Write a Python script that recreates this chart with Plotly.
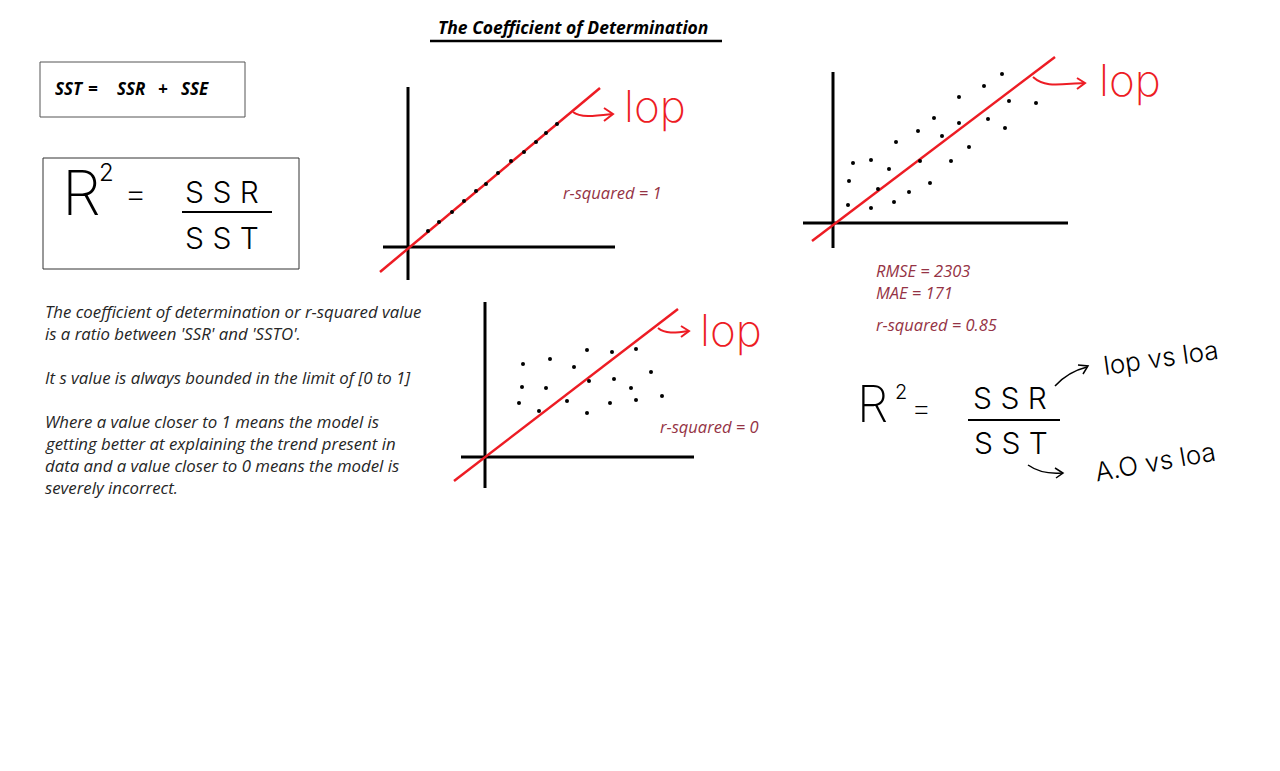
import plotly.graph_objects as go

# ---------------- data ----------------
# panel 1: perfect fit (r-squared = 1)
p1_x = [2.0, 3.1, 4.4, 5.6, 6.8, 7.8, 9.0, 10.3, 11.6, 12.8, 13.8, 14.9]
p1_y = [1.6, 2.5, 3.5, 4.6, 5.6, 6.3, 7.4, 8.6, 9.5, 10.5, 11.4, 12.3]
p1_fit_x = [-2.8, 19.2]
p1_fit_y = [-2.5, 15.9]
p1_xaxis = [-2.5, 20.7]
p1_yaxis = [-3.3, 16.0]

# panel 2: good fit (r-squared = 0.85)
p2_x = [16.9, 15.1, 12.6, 17.6, 20.3, 10.1, 12.6, 15.5, 8.5, 17.2, 10.9, 6.3, 13.6,
        2.0, 3.8, 5.6, 8.7, 11.8, 1.6, 4.5, 7.6, 9.7, 1.5, 3.8, 6.1]
p2_y = [14.9, 13.7, 12.6, 12.2, 12.0, 10.5, 10.0, 10.4, 9.2, 9.5, 8.7, 8.1, 7.6,
        6.0, 6.3, 5.4, 6.2, 6.2, 4.2, 3.4, 3.1, 4.0, 1.8, 1.5, 2.1]
p2_fit_x = [-2.1, 22.2]
p2_fit_y = [-1.8, 16.6]
p2_xaxis = [-3.0, 23.5]
p2_yaxis = [-2.5, 15.1]

# panel 3: no fit (r-squared = 0)
p3_x = [3.8, 6.5, 10.2, 12.7, 15.1, 8.9, 16.6, 3.7, 6.1, 10.4, 12.9, 14.6,
        3.4, 5.4, 8.2, 10.2, 12.5, 15.1, 17.7]
p3_y = [9.3, 9.8, 10.7, 10.5, 10.8, 9.0, 8.5, 7.0, 6.9, 7.6, 7.8, 6.9,
        5.4, 4.6, 5.6, 4.4, 5.4, 5.7, 6.1]
p3_fit_x = [-3.1, 19.3]
p3_fit_y = [-2.4, 14.8]
p3_xaxis = [-2.4, 20.9]
p3_yaxis = [-3.1, 15.5]

title_text = "The Coefficient of Determination"
identity_tokens = ["SST", "=", "SSR", "+", "SSE"]
r2_labels = ["r-squared = 1", "r-squared = 0", "r-squared = 0.85"]
metric_labels = ["RMSE = 2303", "MAE = 171"]
paragraph = [
    "The coefficient of determination or r-squared value",
    "is a ratio between 'SSR' and 'SSTO'.",
    "",
    "It s value is always bounded in the limit of [0 to 1]",
    "",
    "Where a value closer to 1 means the model is",
    "getting better at explaining the trend present in",
    "data and a value closer to 0 means the model is",
    "severely incorrect.",
]

# ---------------- styles ----------------
W, H = 1280, 771
RED = "#ED1C24"
DARKRED = "#953345"
TXT = "#262626"
HAND = "Inter"
BODY = "Open Sans"

fig = go.Figure()

# base (page) axes: one unit = one pixel
fig.update_layout(
    xaxis=dict(domain=[0, 1], range=[0, W], visible=False, fixedrange=True),
    yaxis=dict(domain=[0, 1], range=[H, 0], visible=False, fixedrange=True),
)
fig.add_trace(go.Scatter(x=[0, W], y=[0, H], mode="markers", marker=dict(opacity=0),
                         hoverinfo="skip", showlegend=False))

# panels: (pixel box left, right, top, bottom), origin pixel, data
panels = [
    ((370, 620, 80, 285), (408, 247), p1_x, p1_y, p1_fit_x, p1_fit_y, p1_xaxis, p1_yaxis),
    ((795, 1075, 50, 255), (833, 223), p2_x, p2_y, p2_fit_x, p2_fit_y, p2_xaxis, p2_yaxis),
    ((448, 700, 295, 495), (485, 457), p3_x, p3_y, p3_fit_x, p3_fit_y, p3_xaxis, p3_yaxis),
]
SCALE = 10.0
for i, (box, org, px, py, fx, fy, ax, ay) in enumerate(panels):
    n = i + 2
    L, R, T, B = box
    ox, oy = org
    fig.update_layout({
        f"xaxis{n}": dict(domain=[L / W, R / W], range=[(L - ox) / SCALE, (R - ox) / SCALE],
                          visible=False, fixedrange=True, anchor=f"y{n}"),
        f"yaxis{n}": dict(domain=[1 - B / H, 1 - T / H], range=[(oy - B) / SCALE, (oy - T) / SCALE],
                          visible=False, fixedrange=True, anchor=f"x{n}"),
    })
    xa, ya = f"x{n}", f"y{n}"
    fig.add_trace(go.Scatter(x=[0, 0], y=ay, mode="lines", line=dict(color="black", width=3),
                             xaxis=xa, yaxis=ya, showlegend=False, hoverinfo="skip"))
    fig.add_trace(go.Scatter(x=ax, y=[0, 0], mode="lines", line=dict(color="black", width=3),
                             xaxis=xa, yaxis=ya, showlegend=False, hoverinfo="skip"))
    fig.add_trace(go.Scatter(x=fx, y=fy, mode="lines", line=dict(color=RED, width=2.5),
                             xaxis=xa, yaxis=ya, showlegend=False, hoverinfo="skip"))
    fig.add_trace(go.Scatter(x=px, y=py, mode="markers",
                             marker=dict(color="black", size=4, symbol="circle"),
                             xaxis=xa, yaxis=ya, showlegend=False, hoverinfo="skip"))

ann = []
shapes = []


def text(x, y, s, size, color="black", family=BODY, weight="normal", style="normal",
         xanchor="left", yanchor="middle", angle=0):
    ann.append(dict(x=x, y=y, xref="x", yref="y", text=s, showarrow=False,
                    xanchor=xanchor, yanchor=yanchor, textangle=angle,
                    font=dict(size=size, color=color, family=family, weight=weight, style=style)))


def line(x0, y0, x1, y1, color="black", width=2):
    shapes.append(dict(type="line", xref="x", yref="y", x0=x0, y0=y0, x1=x1, y1=y1,
                       line=dict(color=color, width=width)))


def path(d, color="black", width=2):
    shapes.append(dict(type="path", xref="x", yref="y", path=d,
                       line=dict(color=color, width=width)))


# title
text(573, 27, title_text, 17.5, weight="bold", style="italic", xanchor="center")
line(430, 41, 722, 41, width=2.5)

# SST = SSR + SSE box
shapes.append(dict(type="rect", xref="x", yref="y", x0=40, y0=62, x1=245, y1=117,
                   line=dict(color="#555555", width=1)))
for tok, tx in zip(identity_tokens, [53, 86, 115, 156, 179]):
    text(tx, 88, tok, 17, weight="bold", style="italic")

# R^2 box
shapes.append(dict(type="rect", xref="x", yref="y", x0=43, y0=158, x1=299, y1=269,
                   line=dict(color="#333333", width=1)))
text(81, 192, "R", 62, family=HAND, weight=250, xanchor="center")
text(106, 172, "2", 24, family=HAND, weight=300, xanchor="center")
text(135, 193, "=", 36, family=HAND, weight=250, xanchor="center")
text(222, 192, "S S R", 30, family=HAND, weight=300, xanchor="center")
line(182, 212, 272, 212, width=2)
text(222, 238, "S S T", 30, family=HAND, weight=300, xanchor="center")

# panel labels
text(561, 192, r2_labels[0], 16.5, color=DARKRED, style="italic")
text(658, 426, r2_labels[1], 16.5, color=DARKRED, style="italic")
text(874, 270, metric_labels[0], 16.5, color=DARKRED, style="italic")
text(874, 292, metric_labels[1], 16.5, color=DARKRED, style="italic")
text(874, 324, r2_labels[2], 16.5, color=DARKRED, style="italic")

# "lop" arrows and labels (red, hand drawn)
path("M 573 112 C 580 118, 595 116, 612 114", RED, 2)
path("M 604 108 L 613 114 L 604 121", RED, 2)
text(655, 106, "lop", 44, color=RED, family=HAND, weight=250, xanchor="center")

path("M 1033 77 C 1045 88, 1060 84, 1084 83", RED, 2)
path("M 1077 78 L 1085 83 L 1077 89", RED, 2)
text(1130, 80, "lop", 44, color=RED, family=HAND, weight=250, xanchor="center")

path("M 658 328 C 665 334, 675 333, 688 331", RED, 2)
path("M 681 326 L 689 331 L 681 337", RED, 2)
text(731, 330, "lop", 44, color=RED, family=HAND, weight=250, xanchor="center")

# right hand formula
text(872, 404, "R", 50, family=HAND, weight=250, xanchor="center")
text(901, 392, "2", 20, family=HAND, weight=300, xanchor="center")
text(921, 407, "=", 32, family=HAND, weight=250, xanchor="center")
text(1010, 398, "S S R", 30, family=HAND, weight=300, xanchor="center")
line(968, 420, 1060, 420, width=2)
text(1011, 443, "S S T", 30, family=HAND, weight=300, xanchor="center")
path("M 1055 386 C 1065 375, 1075 370, 1087 367", "black", 1.5)
path("M 1078 365 L 1088 366 L 1083 374", "black", 1.5)
text(1161, 357, "lop vs loa", 26, family=HAND, weight=300, xanchor="center", angle=-8)
path("M 1028 465 C 1038 472, 1050 474, 1062 473", "black", 1.5)
path("M 1055 468 L 1063 473 L 1056 478", "black", 1.5)
text(1155, 461, "A.O vs loa", 26, family=HAND, weight=300, xanchor="center", angle=-10)

# paragraph
for k, s in enumerate(paragraph):
    if s:
        text(43, 311 + 22 * k, s, 16.8, color=TXT, style="italic")

fig.update_layout(
    width=W, height=H, autosize=False,
    margin=dict(l=0, r=0, t=0, b=0, pad=0),
    paper_bgcolor="white", plot_bgcolor="white",
    showlegend=False, annotations=ann, shapes=shapes,
)

fig.write_html("out.html", config={"displayModeBar": False},
               post_script="document.body.style.margin='0';document.body.style.overflow='hidden';")
